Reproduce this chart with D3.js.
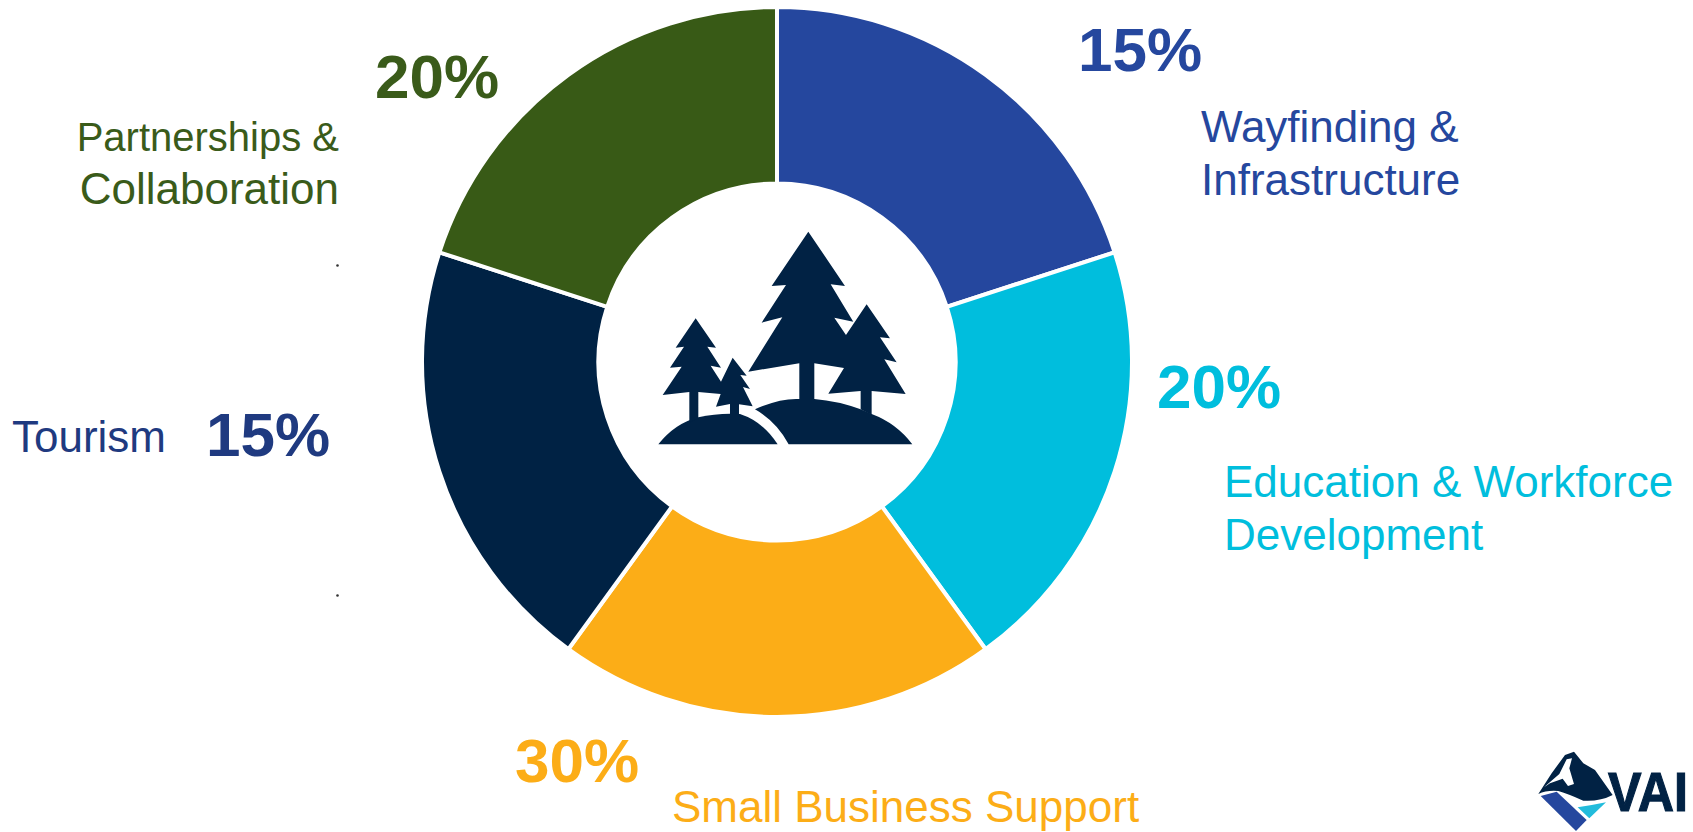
<!DOCTYPE html>
<html>
<head>
<meta charset="utf-8">
<script src="https://cdn.jsdelivr.net/npm/d3@7"></script>
<style>
  html, body { margin: 0; padding: 0; background: #fff; overflow: hidden; }
  svg { display: block; font-family: "Liberation Sans", Arial, sans-serif; }
</style>
</head>
<body>
<svg id="chart" width="1693" height="832"></svg>
<script>
// chart values, clockwise from 12 o'clock
var categories = ["Wayfinding & Infrastructure", "Education & Workforce Development", "Small Business Support", "Tourism", "Partnerships & Collaboration"];
var percentLabels = ["15%", "20%", "30%", "15%", "20%"];
// the drawn slices are all the same size, whatever the printed percentages say
var sliceValues = [20, 20, 20, 20, 20];
var sliceColors = ["#25479e", "#00bedd", "#fcad17", "#002244", "#385a16"];

// text placement, same order as categories
var nameLines = [["Wayfinding &", "Infrastructure"], ["Education & Workforce", "Development"], ["Small Business Support"], ["Tourism"], ["Partnerships &", "Collaboration"]];
var nameX = [1201, 1224, 672, 12, 339];
var nameY = [141.5, 496.5, 822, 451.5, 151];
var nameAnchor = ["start", "start", "start", "start", "end"];
var percentX = [1078, 1157, 515, 206, 375];
var percentY = [71, 408, 782, 456, 97.5];
var textColors = ["#25479e", "#00bedd", "#fcad17", "#1f3a80", "#3a5b1a"];

var svg = d3.select("#chart");
var cx = 777, cy = 362, outer = 355, inner = 178.5;

var pie = d3.pie().sort(null).value(function(d) { return d; });
var arc = d3.arc().innerRadius(inner).outerRadius(outer);
var color = d3.scaleOrdinal().domain(d3.range(categories.length)).range(sliceColors);

svg.append("g")
  .attr("transform", "translate(" + cx + "," + cy + ")")
  .selectAll("path")
  .data(pie(sliceValues))
  .enter().append("path")
  .attr("d", arc)
  .attr("fill", function(d, i) { return color(i); })
  .attr("stroke", "#fff")
  .attr("stroke-width", 4);

// category names
categories.forEach(function(c, i) {
  var t = svg.append("text")
    .attr("x", nameX[i])
    .attr("y", nameY[i])
    .attr("text-anchor", nameAnchor[i])
    .attr("fill", textColors[i])
    .attr("font-size", 44);
  nameLines[i].forEach(function(line, j) {
    var s = t.append("tspan").attr("x", nameX[i]).attr("dy", j ? 53 : 0).text(line);
    // first line of the green label is set a little smaller in the original
    if (line === "Partnerships &") s.attr("font-size", 40);
  });
});

// big percentages
svg.selectAll("text.pct")
  .data(percentLabels)
  .enter().append("text")
  .attr("class", "pct")
  .attr("x", function(d, i) { return percentX[i]; })
  .attr("y", function(d, i) { return percentY[i]; })
  .attr("fill", function(d, i) { return textColors[i]; })
  .attr("font-size", 62)
  .attr("font-weight", "bold")
  .text(function(d) { return d; });

// the two stray specks left of the ring
svg.append("circle").attr("cx", 337.5).attr("cy", 265.5).attr("r", 1.3).attr("fill", "#333");
svg.append("circle").attr("cx", 337.5).attr("cy", 595.5).attr("r", 1.3).attr("fill", "#333");

// tree icon in the hole, traced at 3x
var treePaths = [
  "M565,95L675,258L632,253L700,365L643,353L678,405L740,313L810,415L780,412L830,487L793,478L857,582L755,573L755,645L722,628L722,573L625,581L672,504L583,490L583,600L538,600L538,490L385,515L487,352L425,368L498,255L455,258Z",
  "M405,628Q480,594 538,597L583,597Q655,603 722,628L755,642Q830,670 877,733L506,733Q470,665 405,628Z",
  "M115,733Q165,670 235,652Q295,638 360,642Q430,665 473,733Z",
  "M227,355L288,443L262,440L303,503L272,497L303,545L338,473L380,527L361,525L390,567L369,561L398,619L357,613L357,645L330,645L330,612L288,620L302,582L235,576L235,655L208,668L208,576L128,585L185,500L150,503L192,440L167,443Z"
];
var icon = svg.append("g").attr("transform", "translate(620,200) scale(0.3333)");
treePaths.forEach(function(p) { icon.append("path").attr("d", p).attr("fill", "#012244"); });

// logo, bottom right, traced at 3x
var logo = svg.append("g").attr("transform", "translate(1500,730) scale(0.3333)");
logo.append("path").attr("fill", "#012244")
  .attr("d", "M115,192L155,130L195,75L222,65L250,100L285,120L338,195Q300,215 250,212Q200,190 175,183Q140,180 115,192Z");
logo.append("path").attr("fill", "#fff")
  .attr("d", "M132,172L178,132L200,88L216,85L208,115L222,162L204,168L188,146L150,160Z");
logo.append("path").attr("fill", "#25479e")
  .attr("d", "M122,198L170,185L260,270L228,303Z");
logo.append("path").attr("fill", "#22bcdc")
  .attr("d", "M233,232Q280,225 318,217L268,265Z");

// the I sits close to the page edge, as in the original
svg.append("text")
  .attr("x", 1608).attr("y", 811)
  .attr("fill", "#012244")
  .attr("stroke", "#012244")
  .attr("stroke-width", 1.2)
  .attr("font-size", 56)
  .attr("font-weight", "bold")
  .attr("textLength", 80)
  .attr("lengthAdjust", "spacingAndGlyphs")
  .text("VAI");
</script>
</body>
</html>
